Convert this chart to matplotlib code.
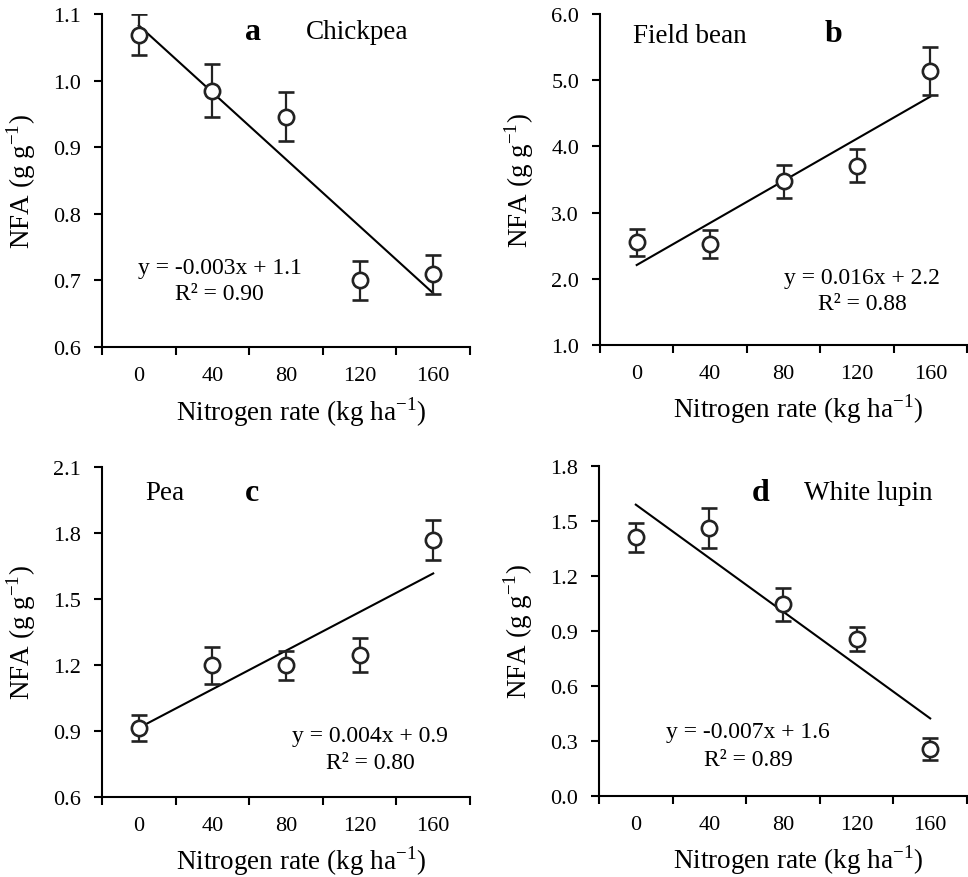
import numpy as np
import matplotlib
matplotlib.use("Agg")
import matplotlib.pyplot as plt

plt.rcParams['font.family'] = ['Liberation Serif', 'DejaVu Serif']
plt.rcParams['mathtext.fontset'] = 'custom'
plt.rcParams['mathtext.rm'] = 'Liberation Serif'

# Nitrogen rates (kg/ha) and NFA means / error bars for each legume
n_rates = [0, 40, 80, 120, 160]
rate_labels = ['0', '40', '80', '120', '160']

chickpea = [1.069, 0.985, 0.946, 0.700, 0.709]
chickpea_err = [0.031, 0.040, 0.037, 0.029, 0.029]

field_bean = [2.55, 2.53, 3.47, 3.71, 5.14]
field_bean_err = [0.20, 0.21, 0.245, 0.25, 0.36]

pea = [0.915, 1.198, 1.198, 1.247, 1.768]
pea_err = [0.06, 0.085, 0.065, 0.077, 0.09]

white_lupin = [1.411, 1.462, 1.045, 0.857, 0.256]
white_lupin_err = [0.08, 0.107, 0.09, 0.065, 0.06]

panels = [
    # letter, crop, values, errors, y limits, y ticks, equation, r2
    ('a', 'Chickpea', chickpea, chickpea_err, (0.6, 1.1), np.arange(0.6, 1.11, 0.1),
     'y = -0.003x + 1.1', 'R\u00b2 = 0.90'),
    ('b', 'Field bean', field_bean, field_bean_err, (1.0, 6.0), np.arange(1.0, 6.01, 1.0),
     'y = 0.016x + 2.2', 'R\u00b2 = 0.88'),
    ('c', 'Pea', pea, pea_err, (0.6, 2.1), np.arange(0.6, 2.11, 0.3),
     'y = 0.004x + 0.9', 'R\u00b2 = 0.80'),
    ('d', 'White lupin', white_lupin, white_lupin_err, (0.0, 1.8), np.arange(0.0, 1.81, 0.3),
     'y = -0.007x + 1.6', 'R\u00b2 = 0.89'),
]

# axes boxes in pixels (left, top, right, bottom)
W, H = 968, 878
boxes = [
    (102, 15, 470, 348),
    (600, 15, 967, 346),
    (102, 468, 470, 798),
    (599, 467, 967, 797),
]

# text placements in axes fractions: letter xy, crop name xy (left), equation xy, r2 y
text_pos = [
    ((0.41, 0.946), (0.554, 0.946), (0.32, 0.24), 0.16),
    ((0.635, 0.94), (0.09, 0.934), (0.714, 0.205), 0.124),
    ((0.408, 0.924), (0.117, 0.924), (0.728, 0.185), 0.106),
    ((0.44, 0.921), (0.557, 0.921), (0.405, 0.194), 0.112),
]

fig = plt.figure(figsize=(W / 100, H / 100), dpi=100)

x = np.array(n_rates, dtype=float)
pos = x / 40 + 0.5  # category positions on the axis

for (letter, crop, vals, errs, ylim, yticks, eq, r2), (l, t, r, b), tp in zip(panels, boxes, text_pos):
    ax = fig.add_axes([l / W, 1 - b / H, (r - l) / W, (b - t) / H])

    # linear trendline fitted on the nitrogen rate
    slope, intercept = np.polyfit(x, vals, 1)
    ax.plot(pos, slope * x + intercept, color='black', lw=1.5, zorder=2)

    ax.errorbar(pos, vals, yerr=errs, fmt='o', ms=11, mfc='white', mec='#222222',
                mew=1.9, ecolor='#222222', elinewidth=1.6, capsize=5.5, capthick=1.6,
                zorder=3)

    ax.set_xlim(0, 5)
    ax.set_ylim(*ylim)
    ax.set_yticks(yticks)
    ax.set_yticklabels([f'{v:.1f}' for v in yticks])
    ax.set_xticks(np.arange(0, 6))
    ax.set_xticklabels([])
    ax.set_xticks(pos, minor=True)
    ax.set_xticklabels(rate_labels, minor=True)

    for side in ('top', 'right'):
        ax.spines[side].set_visible(False)
    for side in ('left', 'bottom'):
        ax.spines[side].set_linewidth(1.5)
    ax.tick_params(axis='both', which='major', direction='out', length=6, width=1.5,
                   labelsize=16)
    ax.tick_params(axis='y', which='major', pad=9)
    ax.tick_params(axis='x', which='minor', length=0, labelsize=16, pad=14)

    ax.set_xlabel('Nitrogen rate (kg ha$^{\\mathregular{-1}}$)', fontsize=19.5)
    ax.xaxis.set_label_coords(0.54, -0.14)
    ax.set_ylabel('NFA (g g$^{\\mathregular{-1}}$)', fontsize=19.5, labelpad=11)

    (lx, ly), (cx, cy), (ex, ey), ry = tp
    ax.text(lx, ly, letter, transform=ax.transAxes, fontsize=23, fontweight='bold',
            ha='center', va='center')
    ax.text(cx, cy, crop, transform=ax.transAxes, fontsize=19.5, ha='left', va='center')
    ax.text(ex, ey, eq, transform=ax.transAxes, fontsize=17, ha='center', va='center')
    ax.text(ex, ry, r2, transform=ax.transAxes, fontsize=17, ha='center', va='center')

fig.savefig('out.png', dpi=100, facecolor='white')
